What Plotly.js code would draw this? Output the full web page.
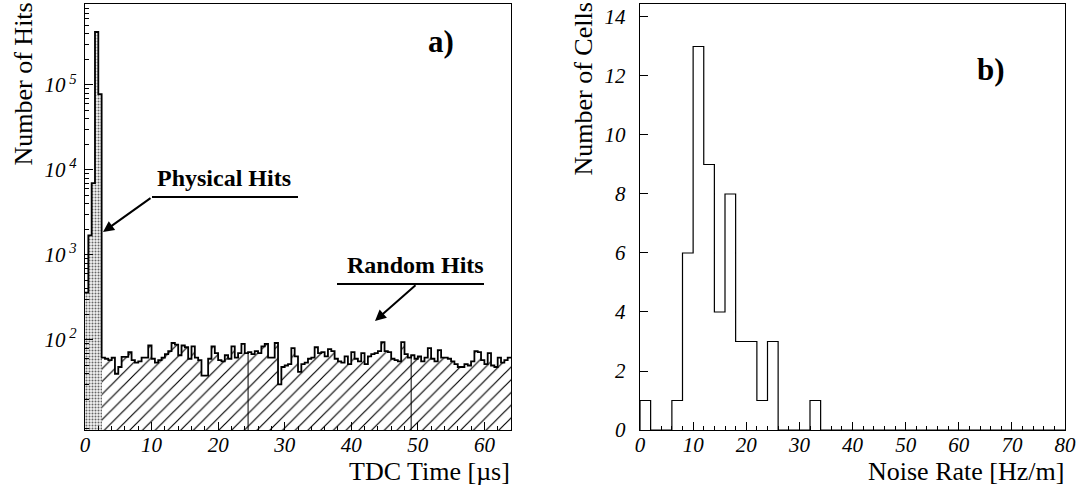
<!DOCTYPE html>
<html>
<head>
<meta charset="utf-8">
<script src="https://cdn.plot.ly/plotly-3.0.1.min.js"></script>
<style>html,body{margin:0;padding:0;background:#fff;}#chart{width:1079px;height:491px;}</style>
</head>
<body>
<div id="chart"></div>
<script>
// ---------- data ----------
const tdcBinWidth = 0.5;               // µs
const physicalHits = [360, 1700, 7000, 420000, 78000];   // bins 0 .. 2.5 µs
const randomHits = [
  62, 60, 58, 62, 40, 48, 63, 63, 72, 58,
  54, 56, 62, 62, 86, 60, 54, 58, 62, 68,
  74, 92, 88, 66, 86, 82, 60, 84, 62, 58,
  38, 38, 60, 84, 70, 58, 56, 66, 60, 84,
  62, 70, 90, 70, 72, 68, 74, 70, 84, 90,
  62, 62, 92, 30, 48, 50, 52, 80, 64, 42,
  52, 54, 60, 62, 82, 70, 72, 64, 78, 74,
  60, 56, 54, 64, 52, 72, 60, 56, 70, 52,
  64, 68, 70, 74, 94, 74, 72, 60, 58, 56,
  94, 68, 62, 66, 60, 64, 56, 62, 80, 60,
  56, 76, 62, 62, 60, 56, 52, 48, 48, 52,
  50, 56, 74, 72, 58, 52, 70, 50, 48, 62,
  54, 58, 62
];                                      // bins 2.5 .. 64 µs
const dividerTimes = [24.5, 49];        // µs, boundaries of the fill pieces
const tdcTickVals = [0, 10, 20, 30, 40, 50, 60];
const hitsTickVals = [1e2, 1e3, 1e4, 1e5];
const hitsTickText = ['10<sup> 2</sup>', '10<sup> 3</sup>', '10<sup> 4</sup>', '10<sup> 5</sup>'];

const noiseBinWidth = 2;               // Hz/m
const noiseCells = [1, 0, 0, 1, 6, 13, 9, 4, 8, 3,
                    3, 1, 3, 0, 0, 0, 1, 0, 0, 0,
                    0, 0, 0, 0, 0, 0, 0, 0, 0, 0,
                    0, 0, 0, 0, 0, 0, 0, 0, 0, 0];
const noiseTickVals = [0, 10, 20, 30, 40, 50, 60, 70, 80];
const cellTickVals = [0, 2, 4, 6, 8, 10, 12, 14];

// ---------- helpers ----------
const W = 1079, H = 491;
const px = x => x / W, py = y => 1 - y / H;
const FONT = 'Liberation Serif, Times New Roman, Times, serif';
const yLogRange = [0.94, 5.953];

function stepOutline(vals, bw, x0) {
  const xs = [], ys = [];
  vals.forEach((v, i) => { xs.push(x0 + i * bw); ys.push(v); });
  xs.push(x0 + vals.length * bw); ys.push(vals[vals.length - 1]);
  return {xs, ys};
}

// ---------- left panel ----------
const randStart = physicalHits.length * tdcBinWidth;
const physX = physicalHits.map((v, i) => (i + 0.5) * tdcBinWidth);
const randX = randomHits.map((v, i) => randStart + (i + 0.5) * tdcBinWidth);
const allHits = physicalHits.concat(randomHits);
const outL = stepOutline(allHits, tdcBinWidth, 0);

const divX = [], divY = [];
dividerTimes.forEach(t => {
  const idx = Math.round((t - randStart) / tdcBinWidth);
  divX.push(t, t, null);
  divY.push(Math.pow(10, yLogRange[0]), randomHits[idx], null);
});

// ---------- right panel ----------
const nEdges = [0], nVals = [0];
noiseCells.forEach((v, i) => { nEdges.push(i * noiseBinWidth); nVals.push(v); });
nEdges.push(noiseCells.length * noiseBinWidth); nVals.push(0);

const traces = [
  {type: 'bar', x: physX, y: physicalHits, width: tdcBinWidth, xaxis: 'x', yaxis: 'y',
   marker: {color: '#ffffff', line: {width: 0},
            pattern: {shape: '.', size: 3, solidity: 0.35, fgcolor: '#666', bgcolor: '#f4f4f4'}},
   hoverinfo: 'skip'},
  {type: 'bar', x: randX, y: randomHits, width: tdcBinWidth, xaxis: 'x', yaxis: 'y',
   marker: {color: '#ffffff', line: {width: 0},
            pattern: {shape: '/', size: 9, solidity: 0.13, fgcolor: '#000', bgcolor: '#fff'}},
   hoverinfo: 'skip'},
  {type: 'scatter', mode: 'lines', x: outL.xs, y: outL.ys, xaxis: 'x', yaxis: 'y',
   line: {shape: 'hv', color: '#000', width: 1.8}, hoverinfo: 'skip'},
  {type: 'scatter', mode: 'lines', x: divX, y: divY, xaxis: 'x', yaxis: 'y',
   line: {color: '#000', width: 1}, hoverinfo: 'skip'},
  {type: 'scatter', mode: 'lines', x: nEdges, y: nVals, xaxis: 'x2', yaxis: 'y2',
   line: {shape: 'hv', color: '#000', width: 1.2}, hoverinfo: 'skip'}
];

const tickFont = {family: FONT, size: 21, style: 'italic', color: '#000'};
const axBase = {showline: true, mirror: true, linecolor: '#000', linewidth: 1.3,
                showgrid: false, zeroline: false, ticks: 'inside', tickcolor: '#000',
                tickwidth: 1, tickfont: tickFont, fixedrange: true};

const minorTdc = []; for (let v = 2; v <= 64; v += 2) if (v % 10) minorTdc.push(v);
const minorNoise = []; for (let v = 2; v <= 80; v += 2) if (v % 10) minorNoise.push(v);
const minorHits = [];
for (let d = 0; d <= 5; d++) for (let m = 2; m <= 9; m++) minorHits.push(m * Math.pow(10, d));

const titleFont = {family: FONT, size: 26, color: '#000'};
const boldFont = s => ({family: FONT, size: s, color: '#000', weight: 700});

const layout = {
  width: W, height: H, margin: {l: 0, r: 0, t: 0, b: 0},
  font: {family: FONT, color: '#000'},
  paper_bgcolor: '#fff', plot_bgcolor: '#fff', showlegend: false, bargap: 0,
  barmode: 'overlay',
  xaxis: Object.assign({}, axBase, {domain: [px(85), px(511)], range: [0, 64], anchor: 'y',
          tickmode: 'array', tickvals: tdcTickVals, ticklen: 8, ticklabelstandoff: -5,
          minor: {tickmode: 'array', tickvals: minorTdc, ticks: 'inside', ticklen: 4, tickcolor: '#000'}}),
  yaxis: Object.assign({}, axBase, {domain: [py(430), py(4)], type: 'log', range: yLogRange, anchor: 'x',
          tickmode: 'array', tickvals: hitsTickVals, ticktext: hitsTickText, ticklen: 8,
          ticklabelstandoff: 3,
          minor: {tickmode: 'array', tickvals: minorHits, ticks: 'inside', ticklen: 4, tickcolor: '#000'}}),
  xaxis2: Object.assign({}, axBase, {domain: [px(640), px(1065)], range: [0, 80], anchor: 'y2',
          tickmode: 'array', tickvals: noiseTickVals, ticklen: 8, ticklabelstandoff: -5,
          minor: {tickmode: 'array', tickvals: minorNoise, ticks: 'inside', ticklen: 4, tickcolor: '#000'}}),
  yaxis2: Object.assign({}, axBase, {domain: [py(430), py(4)], range: [0, 14.44], anchor: 'x2',
          tickmode: 'array', tickvals: cellTickVals, ticklen: 8, ticklabelstandoff: 9}),
  shapes: [
    {type: 'line', xref: 'paper', yref: 'paper', x0: px(152), x1: px(298), y0: py(197), y1: py(197),
     line: {color: '#000', width: 2}},
    {type: 'line', xref: 'paper', yref: 'paper', x0: px(337), x1: px(484), y0: py(284), y1: py(284),
     line: {color: '#000', width: 2}}
  ],
  annotations: [
    {xref: 'paper', yref: 'paper', x: px(23), y: py(1), xanchor: 'center', yanchor: 'top',
     text: 'Number of Hits', textangle: -90, showarrow: false, font: titleFont},
    {xref: 'paper', yref: 'paper', x: px(583), y: py(1), xanchor: 'center', yanchor: 'top',
     text: 'Number of Cells', textangle: -90, showarrow: false, font: titleFont},
    {xref: 'paper', yref: 'paper', x: px(512), y: py(471), xanchor: 'right', yanchor: 'middle',
     text: 'TDC Time [µs]', showarrow: false, font: titleFont},
    {xref: 'paper', yref: 'paper', x: px(1066), y: py(471), xanchor: 'right', yanchor: 'middle',
     text: 'Noise Rate [Hz/m]', showarrow: false, font: titleFont},
    {xref: 'paper', yref: 'paper', x: px(441), y: py(41), xanchor: 'center', yanchor: 'middle',
     text: 'a)', showarrow: false, font: boldFont(31)},
    {xref: 'paper', yref: 'paper', x: px(991), y: py(69), xanchor: 'center', yanchor: 'middle',
     text: 'b)', showarrow: false, font: boldFont(31)},
    {xref: 'paper', yref: 'paper', x: px(224), y: py(178), xanchor: 'center', yanchor: 'middle',
     text: 'Physical Hits', showarrow: false, font: boldFont(24)},
    {xref: 'paper', yref: 'paper', x: px(415), y: py(265), xanchor: 'center', yanchor: 'middle',
     text: 'Random Hits', showarrow: false, font: boldFont(24)},
    {xref: 'paper', yref: 'paper', x: px(103), y: py(232), text: '', showarrow: true,
     ax: 49, ay: -35, arrowhead: 2, arrowsize: 1.1, arrowwidth: 2, arrowcolor: '#000', standoff: 0, startstandoff: 0},
    {xref: 'paper', yref: 'paper', x: px(375), y: py(321), text: '', showarrow: true,
     ax: 42, ay: -37, arrowhead: 2, arrowsize: 1.1, arrowwidth: 2, arrowcolor: '#000', standoff: 0, startstandoff: 0}
  ]
};

Plotly.newPlot('chart', traces, layout, {staticPlot: true, displayModeBar: false});
</script>
</body>
</html>
